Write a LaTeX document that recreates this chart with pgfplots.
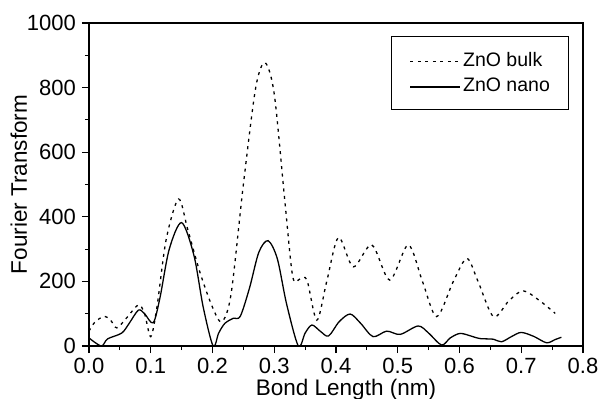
\documentclass[border=0pt]{standalone}
\usepackage{fontspec}
\setmainfont{Liberation Sans}
\usepackage{pgfplots}
\pgfplotsset{compat=1.18}
\begin{document}
\begin{tikzpicture}
\useasboundingbox (-89bp,-53bp) rectangle (509bp,346bp);
\begin{axis}[
  at={(0,0)}, anchor=south west,
  scale only axis, width=494bp, height=323bp,
  xmin=0, xmax=0.8, ymin=0, ymax=1000,
  xtick={0,0.1,...,0.8}, ytick={0,200,...,1000},
  minor x tick num=1, minor y tick num=1,
  xtick pos=bottom, ytick pos=left,
  tick align=outside,
  major tick length=7bp, minor tick length=4bp,
  every tick/.style={black, line width=1.2pt},
  axis line style={line width=1.6pt},
  /pgf/number format/assume math mode=true,
  /pgf/number format/1000 sep={},
  scaled x ticks=false, scaled y ticks=false,
  tick label style={font=\fontsize{22bp}{26bp}\selectfont, inner sep=0pt},
  xticklabel style={anchor=north, yshift=-5bp, /pgf/number format/.cd, fixed, fixed zerofill, precision=1},
  yticklabel style={anchor=east, xshift=-6bp},
  label style={font=\fontsize{22.5bp}{26bp}\selectfont, inner sep=0pt},
  xlabel={Bond Length (nm)}, ylabel={Fourier Transform},
  xlabel style={at={(axis description cs:0.5,0)}, anchor=base, xshift=10bp, yshift=-49bp},
  ylabel style={at={(axis description cs:0,0.5)}, anchor=base, yshift=62bp},
  legend style={at={(0.970,0.960)}, anchor=north east, draw=black, line width=0.6pt,
    font=\fontsize{19.5bp}{23bp}\selectfont, inner xsep=18bp, inner ysep=16bp, row sep=10bp,
    column sep=2bp, nodes={inner sep=0pt},
    legend cell align=left},
  legend image code/.code={\draw[#1, line width=1.4pt] (0bp,-1.5bp) -- (50bp,-1.5bp);},
]
\addplot[black, line width=1.3pt, dash pattern=on 3bp off 4.5bp, smooth, tension=0.5] coordinates {
(0.000,46) (0.010,75) (0.025,92) (0.035,80) (0.045,56) (0.060,85) (0.080,127) (0.090,100)
(0.100,29) (0.110,120) (0.125,330) (0.145,455) (0.160,360) (0.180,226) (0.200,120)
(0.215,75) (0.230,160) (0.250,500) (0.270,800) (0.285,877) (0.300,780) (0.317,452)
(0.330,214) (0.342,208) (0.353,204) (0.369,80) (0.385,200) (0.404,336) (0.428,245)
(0.458,313) (0.487,204) (0.517,313) (0.540,200) (0.563,91) (0.590,200) (0.612,271)
(0.630,200) (0.655,91) (0.680,140) (0.703,171) (0.730,140) (0.755,101)
};
\addlegendentry{ZnO bulk}
\addplot[black, line width=1.3pt, smooth, tension=0.5] coordinates {
(0.000,25) (0.020,0) (0.030,22) (0.053,40) (0.065,70) (0.080,111) (0.090,100) (0.104,72)
(0.115,150) (0.130,300) (0.150,382) (0.170,280) (0.185,120) (0.201,0) (0.210,40)
(0.220,70) (0.234,86) (0.245,92) (0.260,180) (0.275,290) (0.290,326) (0.305,270)
(0.320,130) (0.339,0) (0.350,40) (0.361,65) (0.375,45) (0.388,31) (0.405,75) (0.423,99)
(0.440,70) (0.460,29) (0.482,46) (0.504,36) (0.533,62) (0.550,40) (0.571,3) (0.585,25)
(0.601,39) (0.620,30) (0.633,23) (0.655,21) (0.668,13) (0.685,30) (0.700,42) (0.720,30)
(0.741,10) (0.755,20) (0.765,27)
};
\addlegendentry{ZnO nano}
\end{axis}
\end{tikzpicture}
\end{document}
